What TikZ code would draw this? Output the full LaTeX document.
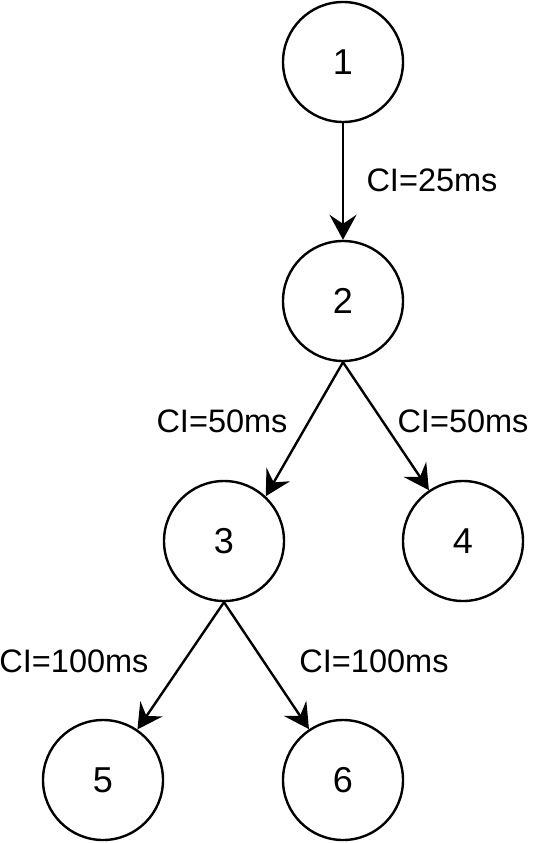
\documentclass[tikz,border=0pt]{standalone}
\usepackage{fontspec}
\setmainfont{Liberation Sans}
\usetikzlibrary{arrows.meta}

\tikzset{
    vertex/.style={circle,draw,line width=2.4pt,minimum size=120pt,inner sep=0pt,
        font=\fontsize{36}{42}\selectfont},
    cilabel/.style={inner sep=0pt,font=\fontsize{32.5}{38}\selectfont},
    edge/.style={line width=2.4pt,-{Stealth[length=25pt,width=27pt,inset=9pt]}}
}

\begin{document}
\begin{tikzpicture}[x=1pt,y=-1pt]
    \useasboundingbox (0,0) rectangle (534,843);
    \node[vertex] (1) at (343,62) {1};
    \node[vertex] (2) at (343,301) {2};
    \node[vertex] (3) at (224,541) {3};
    \node[vertex] (4) at (463,541) {4};
    \node[vertex] (5) at (103,780) {5};
    \node[vertex] (6) at (343,780) {6};
    \node[cilabel] (l12) at (432,180) {CI=25ms};
    \node[cilabel] (l23) at (222,421) {CI=50ms};
    \node[cilabel] (l24) at (463,421) {CI=50ms};
    \node[cilabel] (l35) at (74,661) {CI=100ms};
    \node[cilabel] (l36) at (374,661) {CI=100ms};
    \draw [edge] (1) -- (2);
    \draw [edge] (2.south) -- (3.47);
    \draw [edge] (2.south) -- (4);
    \draw [edge] (3.south) -- (5);
    \draw [edge] (3.south) -- (6);
\end{tikzpicture}
\end{document}
